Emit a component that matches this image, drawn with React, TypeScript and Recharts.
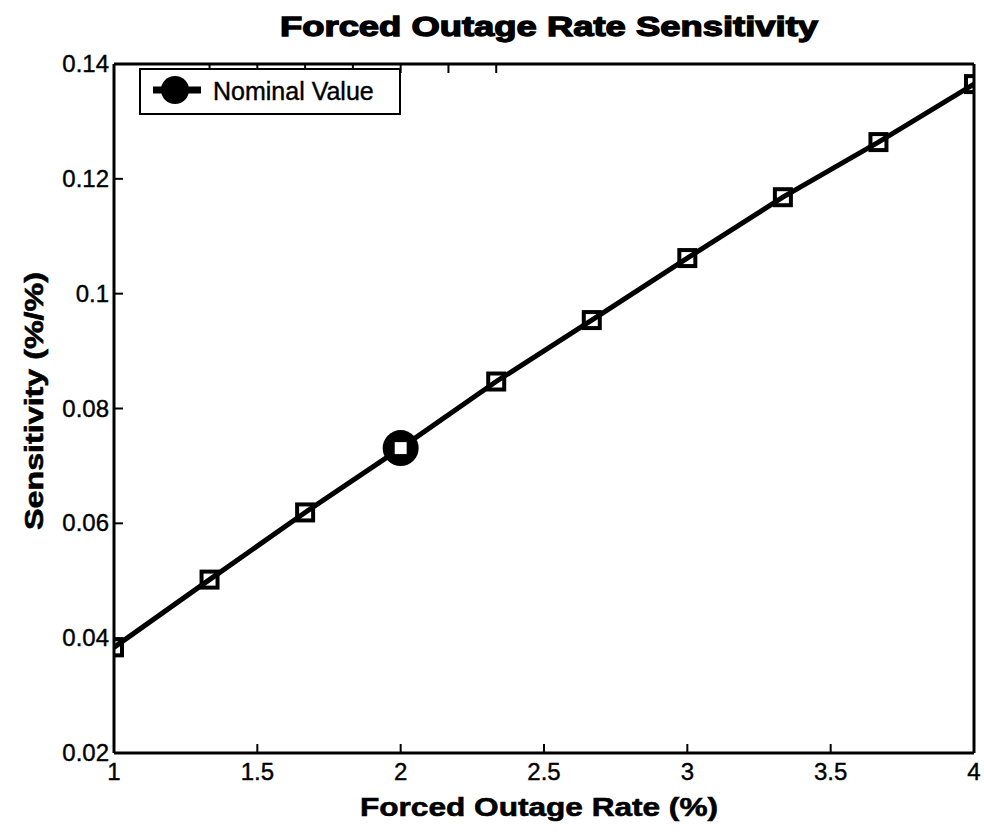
import React from 'react'
import { ComposedChart, XAxis, YAxis, Line, Scatter } from 'recharts'

// values
const forcedOutageRate = [1, 1.3333, 1.6667, 2, 2.3333, 2.6667, 3, 3.3333, 3.6667, 4]
const sensitivity = [0.0384, 0.0502, 0.0619, 0.0731, 0.0847, 0.0954, 0.1062, 0.1168, 0.1264, 0.1365]
const nominalRate = [2]
const nominalSensitivity = [0.0731]
const xTicks = [1, 1.5, 2, 2.5, 3, 3.5, 4]
const yTicks = [0.02, 0.04, 0.06, 0.08, 0.1, 0.12, 0.14]

const rows = forcedOutageRate.map((x, i) => ({ x, y: sensitivity[i] }))
const nominalRows = nominalRate.map((x, i) => ({ x, y: nominalSensitivity[i] }))

const FONT = '"Liberation Sans", Arial, sans-serif'

function BottomTick(props: any) {
    const { x, y, payload } = props
    return (
        <g>
            <line x1={x} y1={y} x2={x} y2={y - 9} stroke="#000" strokeWidth={2} />
            <text
                x={x}
                y={y + 27}
                textAnchor="middle"
                fontSize={24}
                fontFamily={FONT}
                fill="#000"
                stroke="#000"
                strokeWidth={0.4}
            >
                {payload.value}
            </text>
        </g>
    )
}

function LeftTick(props: any) {
    const { x, y, payload } = props
    return (
        <g>
            <line x1={x} y1={y} x2={x + 9} y2={y} stroke="#000" strokeWidth={2} />
            <text
                x={x - 5}
                y={y + 8}
                textAnchor="end"
                fontSize={24}
                fontFamily={FONT}
                fill="#000"
                stroke="#000"
                strokeWidth={0.4}
            >
                {payload.value}
            </text>
        </g>
    )
}

function TopTick(props: any) {
    const { x, y } = props
    return <line x1={x} y1={y} x2={x} y2={y + 9} stroke="#000" strokeWidth={2} />
}

function RightTick(props: any) {
    const { x, y } = props
    return <line x1={x} y1={y} x2={x - 9} y2={y} stroke="#000" strokeWidth={2} />
}

function SquareDot(props: any) {
    const { cx, cy } = props
    if (cx == null || cy == null) return <g />
    return <rect x={cx - 8} y={cy - 8} width={16} height={16} fill="none" stroke="#000" strokeWidth={4} />
}

function NominalMarker(props: any) {
    const { cx, cy } = props
    if (cx == null || cy == null) return <g />
    return (
        <g>
            <circle cx={cx} cy={cy} r={18} fill="#000" />
            <rect x={cx - 8} y={cy - 8} width={16} height={16} fill="#fff" stroke="#000" strokeWidth={3} />
        </g>
    )
}

function NominalLegend() {
    return (
        <div
            style={{
                position: 'absolute',
                left: 139,
                top: 68,
                width: 258,
                height: 43,
                border: '2px solid #000',
                background: '#fff',
                display: 'flex',
                alignItems: 'center',
                fontFamily: FONT,
                fontSize: 25,
                color: '#000',
                WebkitTextStroke: '0.4px #000',
            }}
        >
            <svg width={72} height={43}>
                <line x1={12} y1={20} x2={60} y2={20} stroke="#000" strokeWidth={7} />
                <circle cx={34} cy={20} r={14} fill="#000" />
            </svg>
            <span>Nominal Value</span>
        </div>
    )
}

export default function App() {
    return (
        <div style={{ position: 'absolute', left: 0, top: 0, width: 984, height: 836, background: '#fff' }}>
            <ComposedChart
                width={984}
                height={836}
                data={rows}
                margin={{ top: 63, right: 9, bottom: 82, left: 113 }}
            >
                <XAxis
                    xAxisId="b"
                    dataKey="x"
                    type="number"
                    domain={[1, 4]}
                    ticks={xTicks}
                    height={1}
                    tickSize={0}
                    tickMargin={0}
                    tickLine={false}
                    tick={<BottomTick />}
                    axisLine={{ stroke: '#000', strokeWidth: 3 }}
                    allowDataOverflow
                />
                <XAxis
                    xAxisId="t"
                    orientation="top"
                    type="number"
                    domain={[1, 4]}
                    ticks={xTicks}
                    height={1}
                    tickSize={0}
                    tickMargin={0}
                    tickLine={false}
                    tick={<TopTick />}
                    axisLine={{ stroke: '#000', strokeWidth: 3 }}
                />
                <YAxis
                    yAxisId="l"
                    type="number"
                    domain={[0.02, 0.14]}
                    ticks={yTicks}
                    width={1}
                    tickSize={0}
                    tickMargin={0}
                    tickLine={false}
                    tick={<LeftTick />}
                    axisLine={{ stroke: '#000', strokeWidth: 3 }}
                    allowDataOverflow
                />
                <YAxis
                    yAxisId="r"
                    orientation="right"
                    type="number"
                    domain={[0.02, 0.14]}
                    ticks={yTicks}
                    width={1}
                    tickSize={0}
                    tickMargin={0}
                    tickLine={false}
                    tick={<RightTick />}
                    axisLine={{ stroke: '#000', strokeWidth: 3 }}
                />
                <Scatter
                    xAxisId="b"
                    yAxisId="l"
                    data={nominalRows}
                    dataKey="y"
                    shape={<NominalMarker />}
                    isAnimationActive={false}
                />
                <Line
                    xAxisId="b"
                    yAxisId="l"
                    dataKey="y"
                    stroke="#000"
                    strokeWidth={5}
                    dot={<SquareDot />}
                    activeDot={false}
                    isAnimationActive={false}
                />
            </ComposedChart>
            <NominalLegend />
            <svg
                width={984}
                height={836}
                style={{ position: 'absolute', left: 0, top: 0, pointerEvents: 'none' }}
            >
                <text
                    x={549}
                    y={36}
                    textAnchor="middle"
                    fontFamily={FONT}
                    fontWeight="bold"
                    fontSize={27}
                    stroke="#000"
                    strokeWidth={1.3}
                    textLength={538}
                    lengthAdjust="spacingAndGlyphs"
                >
                    Forced Outage Rate Sensitivity
                </text>
                <text
                    x={539}
                    y={816}
                    textAnchor="middle"
                    fontFamily={FONT}
                    fontWeight="bold"
                    fontSize={26}
                    stroke="#000"
                    strokeWidth={0.6}
                    textLength={358}
                    lengthAdjust="spacingAndGlyphs"
                >
                    Forced Outage Rate (%)
                </text>
                <text
                    transform="translate(43, 401) rotate(-90)"
                    textAnchor="middle"
                    fontFamily={FONT}
                    fontWeight="bold"
                    fontSize={25}
                    stroke="#000"
                    strokeWidth={0.6}
                    textLength={258}
                    lengthAdjust="spacingAndGlyphs"
                >
                    Sensitivity (%/%)
                </text>
            </svg>
        </div>
    )
}
